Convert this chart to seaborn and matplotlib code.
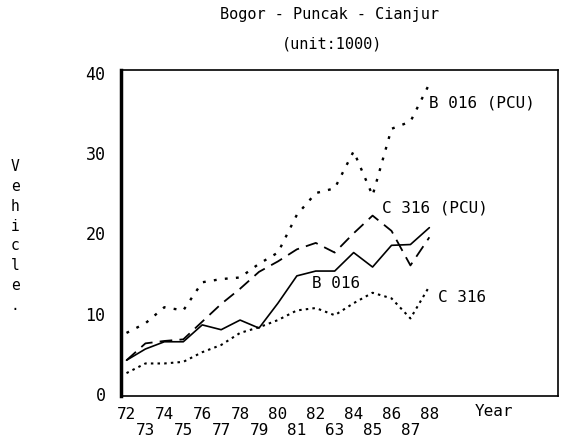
import matplotlib
matplotlib.use("Agg")
import matplotlib.pyplot as plt
import seaborn as sns
import pandas as pd

years = list(range(72, 89))
b016_pcu = [7.6, 8.8, 10.8, 10.4, 13.9, 14.3, 14.5, 16.2, 17.6, 22.3, 25.0, 25.6, 30.2, 24.7, 33.0, 33.9, 38.6]
c316_pcu = [4.2, 6.3, 6.6, 6.8, 9.0, 11.2, 13.1, 15.2, 16.5, 18.0, 18.8, 17.6, 20.0, 22.2, 20.3, 16.0, 19.5]
b016 = [4.2, 5.6, 6.5, 6.5, 8.6, 8.0, 9.2, 8.2, 11.3, 14.7, 15.3, 15.3, 17.6, 15.8, 18.5, 18.6, 20.7]
c316 = [2.6, 3.8, 3.8, 4.0, 5.2, 6.1, 7.6, 8.3, 9.2, 10.4, 10.7, 9.8, 11.3, 12.6, 11.9, 9.4, 13.4]

tick_years = list(range(72, 95))
tick_labels = ["72", "73", "74", "75", "76", "77", "78", "79", "80", "81",
               "82", "63", "84", "85", "86", "87", "88"]

title1 = "Bogor - Puncak - Cianjur"
title2 = "(unit:1000)"
ylabel = "Vehicle"

sns.set_theme(style="white")
plt.rcParams['font.family'] = ['DejaVu Sans Mono', 'DejaVu Sans']
plt.rcParams['text.color'] = 'black'
plt.rcParams['xtick.color'] = 'black'
plt.rcParams['ytick.color'] = 'black'

fig = plt.figure(figsize=(5.62, 4.44), dpi=100)
ax = fig.add_axes([0.215, 0.109, 0.778, 0.733])

df = pd.DataFrame({"year": years, "b016_pcu": b016_pcu, "c316_pcu": c316_pcu,
                   "b016": b016, "c316": c316})

sns.lineplot(data=df, x="year", y="b016_pcu", ax=ax, color="black",
             linestyle=(0, (1.2, 3.5)), linewidth=1.7)
sns.lineplot(data=df, x="year", y="c316_pcu", ax=ax, color="black",
             linestyle=(0, (7, 4)), linewidth=1.3)
sns.lineplot(data=df, x="year", y="b016", ax=ax, color="black",
             linestyle="-", linewidth=1.2)
sns.lineplot(data=df, x="year", y="c316", ax=ax, color="black",
             linestyle=(0, (1.2, 2.0)), linewidth=1.5)

ax.set_xlim(71.7, 94.8)
ax.set_ylim(-0.2, 40.3)

labels = []
for i, y in enumerate(tick_years):
    if i < len(tick_labels):
        lab = tick_labels[i]
        labels.append(lab if (y % 2 == 0) else "\n" + lab)
    else:
        labels.append("")
ax.set_xticks(tick_years)
ax.set_xticklabels(labels, fontsize=11.5, linespacing=1.1)
ax.set_yticks([0, 5, 10, 15, 20, 25, 30, 35, 40])
ax.set_yticklabels(["0", "", "10", "", "20", "", "30", "", "40"], fontsize=12)
ax.tick_params(axis="x", direction="out", length=6, width=1.2, colors="black", pad=2)
ax.tick_params(axis="y", direction="out", length=8, width=1.0, colors="black", pad=3)
ax.set_xlabel("")
ax.set_ylabel("")

for s in ["top", "right", "bottom"]:
    ax.spines[s].set_visible(True)
    ax.spines[s].set_color("black")
    ax.spines[s].set_linewidth(1.2)
ax.spines["left"].set_color("black")
ax.spines["left"].set_linewidth(2.5)

ax.text(88.0, 36.2, "B 016 (PCU)", fontsize=11.5, va="center", ha="left")
ax.text(85.5, 23.1, "C 316 (PCU)", fontsize=11.5, va="center", ha="left")
ax.text(81.8, 13.8, "B 016", fontsize=11.5, va="center", ha="left")
ax.text(88.45, 12.0, "C 316", fontsize=11.5, va="center", ha="left")
ax.text(90.4, -2.2, "Year", fontsize=11.5, va="center", ha="left")

fig.text(330 / 562, 1 - 15 / 444, title1, fontsize=11, ha="center", va="center")
fig.text(332 / 562, 1 - 44 / 444, title2, fontsize=11, ha="center", va="center")
fig.text(15 / 562, 1 - 236 / 444, "\n".join(list(ylabel)) + "\n.", fontsize=10.5,
         ha="center", va="center", linespacing=1.4)

fig.savefig("out.png", dpi=100, facecolor="white")
